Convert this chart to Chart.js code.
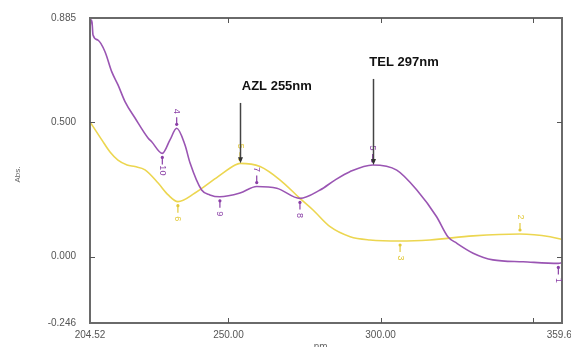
<!DOCTYPE html>
<html>
<head>
<meta charset="utf-8">
<script src="https://cdn.jsdelivr.net/npm/chart.js@4.4.1/dist/chart.umd.min.js"></script>
<style>
  html, body { margin: 0; padding: 0; background: #fff; }
  #wrap { width: 571px; height: 347px; position: relative; }
</style>
</head>
<body>
<div id="wrap"><canvas id="chart"></canvas></div>
<script>
// Spectrum traces (wavelength nm, absorbance)
const purpleNm = [204.52, 204.85, 205.18, 205.51, 207.15, 209.45, 211.65, 213.72, 216.02, 219.31, 223.58, 224.79,
    228.28, 230.8, 233.0, 235.73, 237.4, 241.2, 243.9, 247.2, 253.8, 259.3, 265.9, 273.5, 280.1, 285.0,
    289.9, 297.4, 305.3, 311.9, 318.4, 322.1, 325.0, 330.4, 336.9, 346.8, 358.4, 359.6];
const purpleAbs = [0.848, 0.878, 0.870, 0.822, 0.803, 0.760, 0.686, 0.637, 0.575, 0.514, 0.440, 0.426,
    0.383, 0.433, 0.476, 0.414, 0.347, 0.247, 0.229, 0.222, 0.236, 0.260, 0.254, 0.216, 0.247, 0.284,
    0.315, 0.340, 0.321, 0.247, 0.148, 0.074, 0.050, 0.013, -0.012, -0.019, -0.025, -0.023];

const yellowNm = [204.52, 208.4, 211.1, 213.7, 216.7, 219.3, 222.6, 226.9, 230.2, 233.4, 239.0, 246.6, 252.2,
    253.8, 260.4, 267.0, 273.5, 277.8, 283.4, 290.0, 296.5, 306.4, 316.2, 330.4, 345.8, 355.7, 359.6];
const yellowAbs = [0.500, 0.433, 0.388, 0.358, 0.340, 0.334, 0.322, 0.273, 0.229, 0.204, 0.236, 0.297, 0.340,
    0.346, 0.334, 0.284, 0.216, 0.173, 0.111, 0.074, 0.062, 0.058, 0.062, 0.077, 0.084, 0.074, 0.064];

// Axis ticks
const xTicks = [204.52, 250, 300, 350, 359.6];
const xTickLabels = ['204.52', '250.00', '300.00', '', '359.60'];
const yTicks = [-0.246, 0, 0.5, 0.885];
const yTickLabels = ['-0.246', '0.000', '0.500', '0.885'];

// Peak pick markers: series, nm, abs, label, side (1 = above, -1 = below)
const pickSeries = ['p', 'p', 'p', 'p', 'p', 'p', 'p', 'y', 'y', 'y', 'y'];
const pickNm = [228.28, 233.0, 247.2, 259.3, 273.5, 297.4, 358.4, 233.4, 253.8, 306.4, 345.8];
const pickAbs = [0.383, 0.476, 0.222, 0.260, 0.216, 0.340, -0.025, 0.204, 0.346, 0.058, 0.084];
const pickLabel = ['10', '4', '9', '7', '8', '5', '1', '6', '5', '3', '2'];
const pickSide = [-1, 1, -1, 1, -1, 1, -1, -1, 1, -1, 1];

// Callouts: text, text centre (nm, abs), arrow top abs, arrow target (nm, abs)
const calloutText = ['AZL 255nm', 'TEL 297nm'];
const calloutNm = [265.9, 307.7];
const calloutAbs = [0.633, 0.722];
const arrowTopAbs = [0.570, 0.659];
const arrowNm = [253.8, 297.4];
const arrowAbs = [0.346, 0.340];

const PURPLE = '#9a55b3';
const YELLOW = '#ecd650';

function toPoints(xs, ys) {
    return xs.map((x, i) => ({ x: x, y: ys[i] }));
}

const decorPlugin = {
    id: 'decor',
    afterDatasetsDraw(chart) {
        const ctx = chart.ctx;
        const a = chart.chartArea;
        const xs = chart.scales.x;
        const ys = chart.scales.y;
        ctx.save();

        // frame
        ctx.strokeStyle = '#6a6a6a';
        ctx.lineWidth = 2;
        ctx.strokeRect(a.left, a.top, a.right - a.left, a.bottom - a.top);

        // inward ticks
        ctx.lineWidth = 1;
        ctx.strokeStyle = '#555';
        ctx.beginPath();
        xTicks.slice(1, -1).forEach(v => {
            const px = Math.round(xs.getPixelForValue(v)) + 0.5;
            ctx.moveTo(px, a.bottom); ctx.lineTo(px, a.bottom - 5);
            ctx.moveTo(px, a.top); ctx.lineTo(px, a.top + 5);
        });
        yTicks.slice(1, -1).forEach(v => {
            const py = Math.round(ys.getPixelForValue(v)) + 0.5;
            ctx.moveTo(a.left, py); ctx.lineTo(a.left + 5, py);
            ctx.moveTo(a.right, py); ctx.lineTo(a.right - 5, py);
        });
        ctx.stroke();

        // peak pick markers
        pickNm.forEach((nm, i) => {
            const col = pickSeries[i] === 'p' ? '#8a3fa6' : '#e2c93a';
            const px = xs.getPixelForValue(nm);
            const py = ys.getPixelForValue(pickAbs[i]);
            const s = pickSide[i];
            ctx.strokeStyle = col;
            ctx.fillStyle = col;
            ctx.lineWidth = 1.2;
            ctx.beginPath();
            ctx.moveTo(px, py - s * 3);
            ctx.lineTo(px, py - s * 11);
            ctx.stroke();
            ctx.beginPath();
            ctx.arc(px, py - s * 4, 1.6, 0, Math.PI * 2);
            ctx.fill();
            ctx.save();
            ctx.translate(px, py - s * 17);
            ctx.rotate(Math.PI / 2);
            ctx.font = '9px "Liberation Sans", Arial, sans-serif';
            ctx.textAlign = 'center';
            ctx.textBaseline = 'middle';
            ctx.fillText(pickLabel[i], 0, 0);
            ctx.restore();
        });

        // callouts
        calloutText.forEach((t, i) => {
            const tx = xs.getPixelForValue(calloutNm[i]);
            const ty = ys.getPixelForValue(calloutAbs[i]);
            ctx.fillStyle = '#111';
            ctx.font = 'bold 13px "Liberation Sans", Arial, sans-serif';
            ctx.textAlign = 'center';
            ctx.textBaseline = 'middle';
            ctx.fillText(t, tx, ty);

            const ax = Math.round(xs.getPixelForValue(arrowNm[i])) + 0.5;
            const y0 = ys.getPixelForValue(arrowTopAbs[i]);
            const y1 = ys.getPixelForValue(arrowAbs[i]);
            ctx.strokeStyle = '#444';
            ctx.lineWidth = 1.5;
            ctx.beginPath();
            ctx.moveTo(ax, y0);
            ctx.lineTo(ax, y1 - 3);
            ctx.stroke();
            ctx.fillStyle = '#333';
            ctx.beginPath();
            ctx.moveTo(ax, y1);
            ctx.lineTo(ax - 2.5, y1 - 6);
            ctx.lineTo(ax + 2.5, y1 - 6);
            ctx.closePath();
            ctx.fill();
        });

        // axis titles
        ctx.fillStyle = '#666';
        ctx.font = '8px "Liberation Sans", Arial, sans-serif';
        ctx.save();
        ctx.translate(18, (a.top + a.bottom) / 2 + 4);
        ctx.rotate(-Math.PI / 2);
        ctx.textAlign = 'center';
        ctx.textBaseline = 'middle';
        ctx.fillText('Abs.', 0, 0);
        ctx.restore();
        ctx.font = '10px "Liberation Sans", Arial, sans-serif';
        ctx.textAlign = 'center';
        ctx.textBaseline = 'top';
        ctx.fillText('nm.', 322, 342);

        ctx.restore();
    }
};

new Chart(document.getElementById('chart'), {
    type: 'line',
    data: {
        datasets: [
            {
                label: 'TEL',
                data: toPoints(purpleNm, purpleAbs),
                borderColor: PURPLE,
                borderWidth: 1.6,
                pointRadius: 0,
                cubicInterpolationMode: 'monotone',
                fill: false
            },
            {
                label: 'AZL',
                data: toPoints(yellowNm, yellowAbs),
                borderColor: YELLOW,
                borderWidth: 1.6,
                pointRadius: 0,
                cubicInterpolationMode: 'monotone',
                fill: false
            }
        ]
    },
    options: {
        responsive: true,
        maintainAspectRatio: false,
        animation: false,
        layout: { padding: { top: 18, right: 9, left: 0, bottom: 0 } },
        plugins: {
            legend: { display: false },
            tooltip: { enabled: false }
        },
        scales: {
            x: {
                type: 'linear',
                min: 204.52,
                max: 359.6,
                grid: { display: false },
                border: { display: false },
                afterBuildTicks: s => { s.ticks = xTicks.map(v => ({ value: v })); },
                afterFit: s => { s.height = 24; s.paddingLeft = 0; s.paddingRight = 0; },
                ticks: {
                    autoSkip: false,
                    maxRotation: 0,
                    padding: -2,
                    color: '#555',
                    font: { family: '"Liberation Sans", Arial, sans-serif', size: 10 },
                    callback: v => xTickLabels[xTicks.indexOf(v)]
                }
            },
            y: {
                type: 'linear',
                min: -0.246,
                max: 0.885,
                grid: { display: false },
                border: { display: false },
                afterBuildTicks: s => { s.ticks = yTicks.map(v => ({ value: v })); },
                afterFit: s => { s.width = 90; s.paddingTop = 0; s.paddingBottom = 0; },
                ticks: {
                    autoSkip: false,
                    padding: 6,
                    color: '#555',
                    font: { family: '"Liberation Sans", Arial, sans-serif', size: 10 },
                    callback: v => yTickLabels[yTicks.indexOf(v)]
                }
            }
        }
    },
    plugins: [decorPlugin]
});
</script>
</body>
</html>
